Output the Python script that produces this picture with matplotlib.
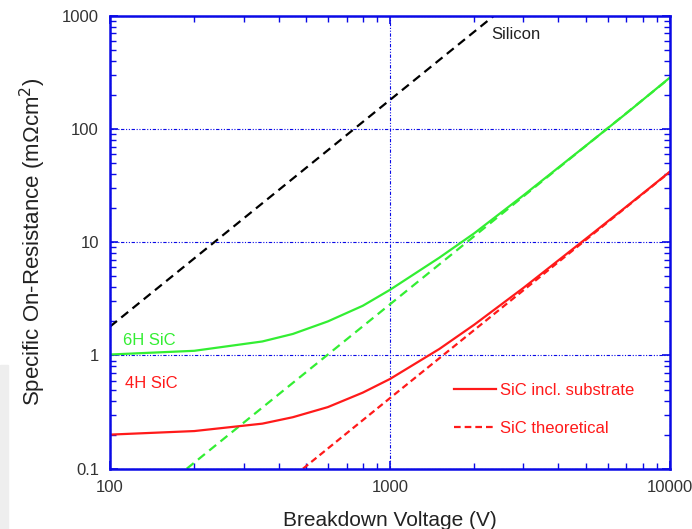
import numpy as np
import matplotlib
matplotlib.use('Agg')
import matplotlib.pyplot as plt

plt.rcParams['font.family'] = ['Liberation Sans', 'DejaVu Sans']

# breakdown voltage (V) vs specific on-resistance (mOhm cm2)
si_v = [100, 2350]
si_r = [1.8, 1000]

h6_v = [100, 200, 350, 450, 600, 800, 1000, 1500, 2000, 3000, 5000, 7000, 10000]
h6_r = [1.02, 1.1, 1.33, 1.55, 2.0, 2.75, 3.8, 7.3, 12, 26, 71, 138, 285]
h6_th_v = [188, 1000, 10000]
h6_th_r = [0.1, 2.83, 283]

h4_v = [100, 200, 350, 450, 600, 800, 1000, 1500, 2000, 3000, 5000, 7000, 10000]
h4_r = [0.2, 0.215, 0.25, 0.285, 0.35, 0.47, 0.62, 1.14, 1.87, 3.96, 10.7, 20.7, 42]
h4_th_v = [489, 1000, 10000]
h4_th_r = [0.1, 0.42, 41.8]

blue = '#0a0ae6'
green = '#33ee33'
red = '#ff1a1a'

fig = plt.figure(figsize=(6.92, 5.29), dpi=100)
# faint grey strip at the left edge of the original scan
fig.patches.append(plt.Rectangle((0, 0), 0.011, 0.31, transform=fig.transFigure,
                                 color='#eeeeee', zorder=0))
ax = fig.add_axes([0.159, 0.114, 0.809, 0.856])

ax.plot(si_v, si_r, color='black', lw=1.6, ls=(0, (4, 2.5)))
ax.plot(h6_v, h6_r, color=green, lw=1.6)
ax.plot(h6_th_v, h6_th_r, color=green, lw=1.6, ls=(0, (4, 2.5)))
l1, = ax.plot(h4_v, h4_r, color=red, lw=1.6)
l2, = ax.plot(h4_th_v, h4_th_r, color=red, lw=1.6, ls=(0, (3, 1.8)))

ax.set_xscale('log')
ax.set_yscale('log')
ax.set_xlim(100, 10000)
ax.set_ylim(0.1, 1000)

ax.set_xticks([100, 1000, 10000])
ax.set_xticklabels(['100', '1000', '10000'])
ax.set_yticks([0.1, 1, 10, 100, 1000])
ax.set_yticklabels(['0.1', '1', '10', '100', '1000'])

ax.grid(True, which='major', color=blue, lw=0.8, ls=(0, (3, 1.5, 1, 1.5, 1, 1.5)))
for s in ax.spines.values():
    s.set_color(blue)
    s.set_linewidth(1.8)
ax.tick_params(which='both', direction='in', top=True, right=True, color=blue,
               labelcolor='#333333', labelsize=12)
ax.tick_params(which='major', length=6, width=1.2, pad=8)
ax.tick_params(which='minor', length=4, width=1.0)

ax.text(2300, 680, 'Silicon', fontsize=12, color='#222222', va='center')
ax.text(111, 1.36, '6H SiC', fontsize=12, color=green, va='center')
ax.text(113, 0.565, '4H SiC', fontsize=12, color=red, va='center')

leg = ax.legend([l1, l2], ['SiC incl. substrate', 'SiC theoretical'], loc='upper left',
                bbox_to_anchor=(0.6, 0.207), frameon=False, fontsize=12,
                handlelength=2.5, handletextpad=0.25, labelspacing=1.35, borderpad=0)
for t in leg.get_texts():
    t.set_color(red)

ax.set_xlabel('Breakdown Voltage (V)', fontsize=15, color='#222222', labelpad=12)
ax.set_ylabel('Specific On-Resistance (m\u03a9cm$^2$)', fontsize=16, color='#222222', labelpad=10)

fig.savefig('out.png', dpi=100)
